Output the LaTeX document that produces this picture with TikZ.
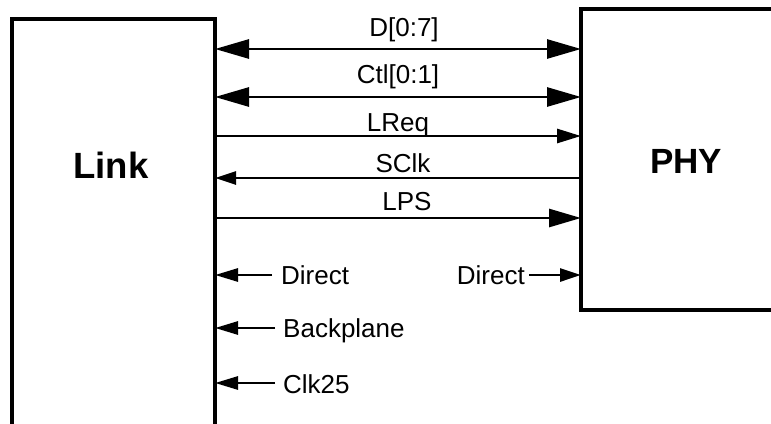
\documentclass[tikz,border=0pt]{standalone}
\usepackage{fontspec}
\setmainfont{Liberation Sans}
\usetikzlibrary{arrows.meta}
\tikzset{
  bigtip/.tip={Triangle[length=34pt,width=19pt]},
  lpstip/.tip={Triangle[length=32pt,width=18pt]},
  midtip/.tip={Triangle[length=24pt,width=14pt]},
  smalltip/.tip={Triangle[length=21pt,width=13pt]},
}
\begin{document}
\begin{tikzpicture}[x=1pt,y=-1pt,
  boxline/.style={line width=3.2pt, line join=miter},
  sig/.style={line width=2.8pt},
  lbl/.style={inner sep=0pt, font=\fontsize{26}{26}\selectfont},
  title/.style={inner sep=0pt, anchor=base, font=\fontsize{36.5}{36.5}\selectfont\bfseries},
]
\useasboundingbox (0,0) rectangle (771,423);
\path[fill=white] (0,0) rectangle (771,423);

% boxes
\draw[boxline] (12,430) -- (12,19) -- (215,19) -- (215,430);
\draw[boxline] (780,9) -- (581,9) -- (581,310) -- (780,310);
\node[title] (link) at (111,178) {Link};
\node[title, font=\fontsize{35}{35}\selectfont\bfseries] (phy) at (686,173) {PHY};

% endpoints on the boxes
\foreach \n/\y in {d/49,c/97,r/136,s/178,p/218,dir/275} {
  \coordinate (L\n) at (215,\y);
  \coordinate (P\n) at (581,\y);
}
\coordinate (Lb) at (215,328);
\coordinate (Lk) at (215,383);
\coordinate (Sdl) at (272,275);
\coordinate (Sb) at (275,328);
\coordinate (Sk) at (275,383);
\coordinate (Sdr) at (529,275);

% signals
\draw[sig, bigtip-bigtip] (Ld) -- (Pd);
\draw[sig, bigtip-bigtip] (Lc) -- (Pc);
\draw[sig, -midtip] (Lr) -- (Pr);
\draw[sig, -smalltip] (Ps) -- (Ls);
\draw[sig, -lpstip] (Lp) -- (Pp);
\draw[sig, -{Triangle[length=23pt,width=13pt]}] (Sdl) -- (Ldir);
\draw[sig, -{Triangle[length=23pt,width=13pt]}] (Sb) -- (Lb);
\draw[sig, -{Triangle[length=23pt,width=13pt]}] (Sk) -- (Lk);
\draw[sig, -smalltip] (Sdr) -- (Pdir);

% labels
\node[lbl, anchor=base] (ld) at (404,36) {D[0:7]};
\node[lbl, anchor=base] (lc) at (398,83) {Ctl[0:1]};
\node[lbl, anchor=base] (lr) at (398,131) {LReq};
\node[lbl, anchor=base] (ls) at (403,172) {SClk};
\node[lbl, anchor=base] (lp) at (407,210) {LPS};
\node[lbl, anchor=base west] (ldl) at (281,284) {Direct};
\node[lbl, anchor=base west] (lb) at (283,337) {Backplane};
\node[lbl, anchor=base west] (lk) at (283,393) {Clk25};
\node[lbl, anchor=base east] (ldr) at (525,284) {Direct};
\end{tikzpicture}
\end{document}
